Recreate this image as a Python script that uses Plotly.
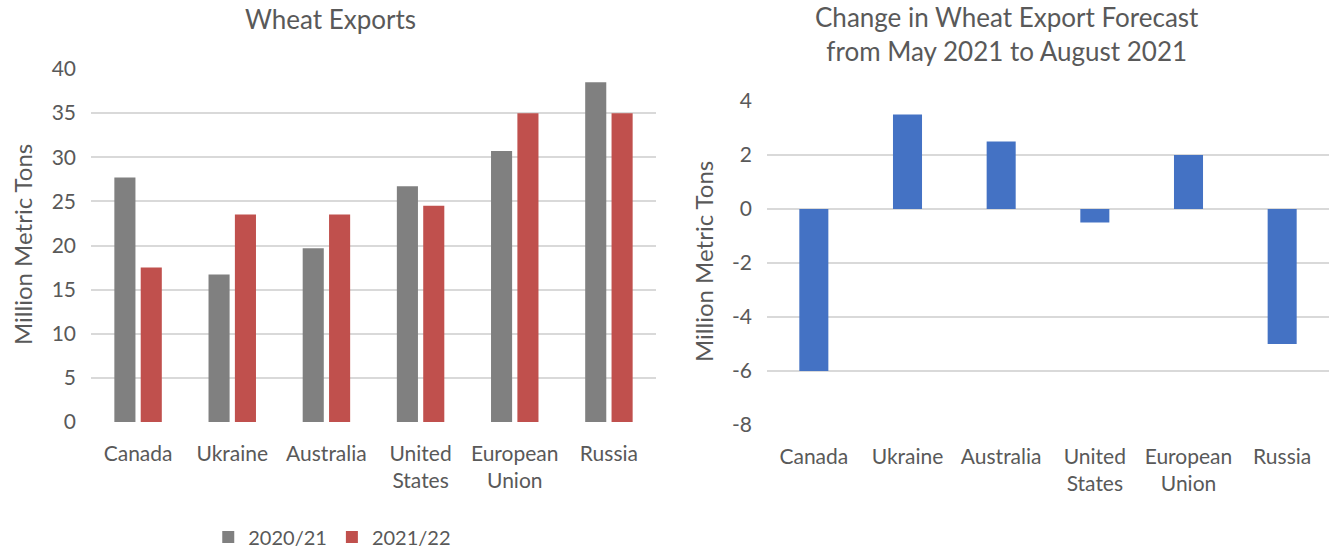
import plotly.graph_objects as go
from plotly.subplots import make_subplots

countries = ["Canada", "Ukraine", "Australia", "United<br>States", "European<br>Union", "Russia"]
exports_2020 = [27.7, 16.7, 19.7, 26.7, 30.7, 38.5]
exports_2021 = [17.5, 23.5, 23.5, 24.5, 35.0, 35.0]
forecast_change = [-6.0, 3.5, 2.5, -0.5, 2.0, -5.0]

left_ticks = [0, 5, 10, 15, 20, 25, 30, 35, 40]
right_ticks = [-8, -6, -4, -2, 0, 2, 4]
right_tick_text = ["-8", "-6", "-4", "-2", "0", "2", "4"]

W, H = 1329, 548
txt = "#595959"
grid = "#D9D9D9"
font = "Lato, 'Open Sans', sans-serif"

fig = make_subplots(rows=1, cols=2)

fig.add_trace(go.Bar(x=countries, y=exports_2020, name="2020/21",
                     marker=dict(color="#808080", line_width=0)), row=1, col=1)
fig.add_trace(go.Bar(x=countries, y=exports_2021, name="2021/22",
                     marker=dict(color="#C0504D", line_width=0)), row=1, col=1)
fig.add_trace(go.Bar(x=countries, y=forecast_change, name="change", showlegend=False,
                     width=0.31, marker=dict(color="#4472C4", line_width=0)), row=1, col=2)

def px_x(p):
    return p / W

def px_y(p):
    return 1 - p / H

ytick = dict(automargin=False, ticks="", tickfont=dict(size=21, color=txt),
             showgrid=True, gridcolor=grid, gridwidth=1.5, zeroline=False,
             ticklabelstandoff=14)
xtick = dict(automargin=False, ticks="", tickfont=dict(size=21, color=txt),
             showgrid=False, showline=False, ticklabelstandoff=17)

fig.update_layout(
    width=W, height=H,
    margin=dict(l=0, r=0, t=0, b=0, autoexpand=False),
    paper_bgcolor="white", plot_bgcolor="white",
    font=dict(family=font, size=21, color=txt),
    barmode="group", bargap=0.44, bargroupgap=0.2,
    legend=dict(orientation="h", x=0.25, xanchor="center", y=px_y(537), yanchor="middle",
                font=dict(size=20, color=txt), itemwidth=30),
    xaxis=dict(domain=[px_x(91), px_x(656)], **xtick),
    yaxis=dict(domain=[px_y(422), px_y(69)], range=[0, 40], tickvals=left_ticks, **ytick),
    xaxis2=dict(domain=[px_x(767), 1.0], **xtick),
    yaxis2=dict(domain=[px_y(425), px_y(101)], range=[-8, 4], tickvals=right_ticks,
                ticktext=right_tick_text, **ytick),
    annotations=[
        dict(text="Wheat Exports", x=px_x(330), y=px_y(19), xref="paper", yref="paper",
             xanchor="center", yanchor="middle", showarrow=False, font=dict(size=26, color=txt)),
        dict(text="Change in Wheat Export Forecast<br>from May 2021 to August 2021",
             x=px_x(1007), y=px_y(34), xref="paper", yref="paper",
             xanchor="center", yanchor="middle", showarrow=False, font=dict(size=26, color=txt)),
        dict(text="Million Metric Tons", x=px_x(22), y=px_y(245), xref="paper", yref="paper",
             xanchor="center", yanchor="middle", textangle=-90, showarrow=False,
             font=dict(size=24, color=txt)),
        dict(text="Million Metric Tons", x=px_x(703), y=px_y(262), xref="paper", yref="paper",
             xanchor="center", yanchor="middle", textangle=-90, showarrow=False,
             font=dict(size=24, color=txt)),
    ],
)

# the page keeps the browser's default 8px body margin otherwise
fig.write_html("out.html", config={"displayModeBar": False},
               post_script="document.body.style.margin='0';")
